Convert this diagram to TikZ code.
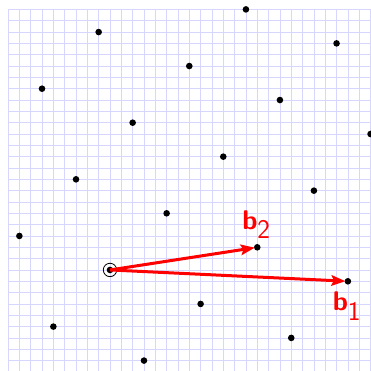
\documentclass[tikz,border=0pt]{standalone}
\usepackage{fontspec}
\usetikzlibrary{arrows.meta,calc}
\tikzset{
  gridline/.style={draw=blue!16, line width=0.6pt},
  latticept/.style={fill=black},
  basisarrow/.style={draw=red, line width=3pt, -{Stealth[length=14pt,width=10.5pt,inset=2.5pt]}, shorten >=2.5pt},
  basislabel/.style={text=red, inner sep=0pt, font=\sffamily\fontsize{27}{30}\selectfont},
  origmark/.style={draw=black, line width=0.8pt},
}
\begin{document}
\begin{tikzpicture}[x=11.33pt,y=11.33pt]
\useasboundingbox (-9.71,-8.91) rectangle (23.04,23.83);
\clip (-9.71,-8.91) rectangle (23.04,23.83);
\draw[gridline, step=1] (-9,-9.5) grid (23.5,23);
% lattice points
\foreach \px/\py in {12/23,-1/21,20/20,7/18,-6/16,15/15,2/13,23/12,10/10,-3/8,18/7,5/5,-8/3,8/-3,-5/-5,16/-6,3/-8}
  \fill[latticept] (\px,\py) circle (3.3pt);
\coordinate (O) at (0,0);
\coordinate (B1) at (21,-1);
\coordinate (B2) at (13,2);
\fill[latticept] (O) circle (3.3pt);
\fill[latticept] (B1) circle (3.3pt);
\fill[latticept] (B2) circle (3.3pt);
\draw[origmark] (O) circle (6.7pt);
\draw[basisarrow] (O) -- (B1);
\draw[basisarrow] (O) -- (B2);
\node[basislabel] (L1) at ($(B1)+(-0.08,-2.18)$) {$\textbf{b}_{\textsf{1}}$};
\node[basislabel] (L2) at ($(B2)+(-0.07,2.0)$) {$\textbf{b}_{\textsf{2}}$};
\end{tikzpicture}
\end{document}
